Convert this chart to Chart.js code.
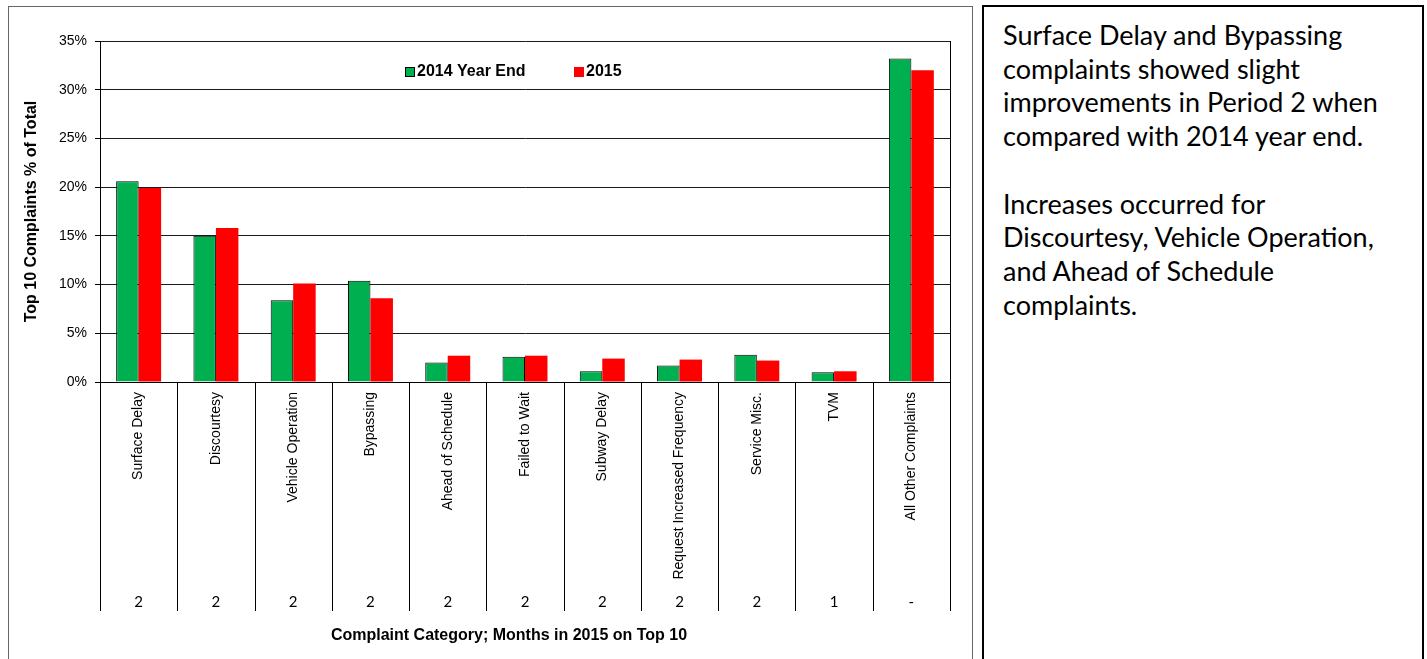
<!DOCTYPE html>
<html>
<head>
<meta charset="utf-8">
<title>Top 10 Complaints</title>
<script src="https://cdn.jsdelivr.net/npm/chart.js@4/dist/chart.umd.min.js"></script>
<style>
  body { margin: 0; background: #fff; overflow: hidden; }
  #chart-frame {
    position: absolute; left: 8px; top: 6px; width: 965px; height: 700px;
    border: 1px solid #666; box-sizing: border-box;
  }
  #complaints-chart { position: absolute; left: 0; top: 0; }
  #notes {
    position: absolute; left: 982px; top: 5px; width: 442px; height: 700px;
    border: 2px solid #000; box-sizing: border-box;
    padding: 11px 0 0 19px;
    font-family: Lato, "Open Sans", sans-serif; font-size: 27px; line-height: 33.7px; color: #000;
  }
</style>
</head>
<body>
<div id="chart-frame"></div>
<canvas id="complaints-chart" width="972" height="659"></canvas>
<div id="notes">
  Surface Delay and Bypassing<br>
  complaints showed slight<br>
  improvements in Period 2 when<br>
  compared with 2014 year end.<br>
  <br>
  Increases occurred for<br>
  Discourtesy, Vehicle Operation,<br>
  and Ahead of Schedule<br>
  complaints.
</div>

<script>
// complaint categories and share of total (%)
const categories = [
  "Surface Delay", "Discourtesy", "Vehicle Operation", "Bypassing", "Ahead of Schedule",
  "Failed to Wait", "Subway Delay", "Request Increased Frequency", "Service Misc.", "TVM",
  "All Other Complaints"
];
const yearEnd2014 = [20.6, 15.0, 8.4, 10.4, 2.0, 2.6, 1.1, 1.7, 2.8, 1.0, 33.2];
const year2015 = [19.9, 15.8, 10.1, 8.6, 2.7, 2.7, 2.4, 2.3, 2.2, 1.1, 32.0];
// months in 2015 each category was on the top 10
const monthsOnTop = ["2", "2", "2", "2", "2", "2", "2", "2", "2", "1", "-"];
const yTicks = [0, 5, 10, 15, 20, 25, 30, 35];

const ARIAL = "'Liberation Sans', Arial, sans-serif";

// legend, right border, category table under the x axis and the axis title
const tablePlugin = {
    id: "complaintTable",
    afterDraw(chart) {
        const ctx = chart.ctx;
        const area = chart.chartArea;
        const x = chart.scales.x;

        ctx.save();
        ctx.strokeStyle = "#000";
        ctx.lineWidth = 1;

        // right edge of the plot
        ctx.beginPath();
        ctx.moveTo(Math.round(area.right) + 0.5, area.top);
        ctx.lineTo(Math.round(area.right) + 0.5, area.bottom);
        ctx.stroke();

        // column separators below the axis
        for (let i = 0; i <= categories.length; i++) {
            const px = Math.round(x.getPixelForValue(i - 0.5)) + 0.5;
            ctx.beginPath();
            ctx.moveTo(px, area.bottom);
            ctx.lineTo(px, x.bottom);
            ctx.stroke();
        }

        // months row
        ctx.fillStyle = "#000";
        ctx.font = "15px Lato, 'Open Sans', sans-serif";
        ctx.textAlign = "center";
        ctx.textBaseline = "middle";
        monthsOnTop.forEach((m, i) => {
            ctx.fillText(m, x.getPixelForValue(i), x.bottom - 9);
        });

        // x axis title
        ctx.font = "bold 16px " + ARIAL;
        ctx.fillText("Complaint Category; Months in 2015 on Top 10", area.left + 409, x.bottom + 25);

        // legend
        ctx.textAlign = "left";
        let lx = area.left + 305;
        chart.data.datasets.forEach((ds, i) => {
            ctx.fillStyle = ds.backgroundColor;
            ctx.fillRect(lx, area.top + 26, 10, 10);
            if (ds.borderWidth) {
                ctx.strokeRect(lx + 0.5, area.top + 26.5, 9, 9);
            }
            ctx.fillStyle = "#000";
            ctx.fillText(ds.label, lx + 12, area.top + 31);
            lx += 169;
        });
        ctx.restore();
    }
};

const ctx = document.getElementById("complaints-chart").getContext("2d");
const chart = new Chart(ctx, {
    type: "bar",
    data: {
        labels: categories,
        datasets: [
            {
                label: "2014 Year End",
                data: yearEnd2014,
                backgroundColor: "#00B050",
                borderColor: "#000",
                borderWidth: 1
            },
            {
                label: "2015",
                data: year2015,
                backgroundColor: "#FF0000",
                borderWidth: 0
            }
        ]
    },
    options: {
        responsive: false,
        animation: false,
        devicePixelRatio: 1,
        barPercentage: 1.0,
        categoryPercentage: 0.582,
        layout: { padding: { left: 0, top: 41, right: 22, bottom: 48 } },
        plugins: {
            legend: { display: false },
            tooltip: { enabled: false }
        },
        scales: {
            x: {
                grid: { display: false, drawTicks: false },
                border: { display: true, color: "#000", width: 1 },
                ticks: {
                    autoSkip: false,
                    minRotation: 90,
                    maxRotation: 90,
                    padding: 10,
                    color: "#000",
                    font: { family: ARIAL, size: 14 }
                },
                afterFit(scale) { scale.height = 229; }
            },
            y: {
                min: 0,
                max: 35,
                afterBuildTicks(scale) { scale.ticks = yTicks.map(v => ({ value: v })); },
                grid: { color: "#1a1a1a", lineWidth: 1, tickLength: 5, tickColor: "#000" },
                border: { display: true, color: "#000", width: 1 },
                ticks: {
                    padding: 8,
                    color: "#000",
                    font: { family: ARIAL, size: 14 },
                    callback: v => v + "%"
                },
                title: {
                    display: true,
                    text: "Top 10 Complaints % of Total",
                    color: "#000",
                    font: { family: ARIAL, size: 16, weight: "bold" },
                    padding: { top: 22, bottom: 0 }
                },
                afterFit(scale) { scale.width = 100; }
            }
        }
    },
    plugins: [tablePlugin]
});
</script>
</body>
</html>
